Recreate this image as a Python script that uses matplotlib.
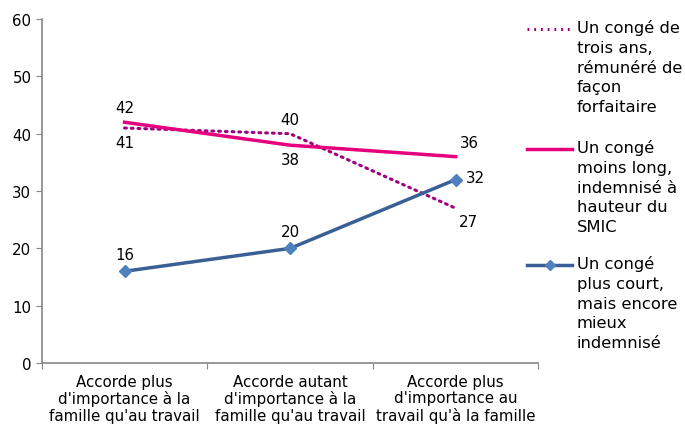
import matplotlib.pyplot as plt
from matplotlib.lines import Line2D

# categories and the three series
categories = ["Accorde plus\nd'importance à la\nfamille qu'au travail",
              "Accorde autant\nd'importance à la\nfamille qu'au travail",
              "Accorde plus\nd'importance au\ntravail qu'à la famille"]
trois_ans = [41, 40, 27]
moins_long = [42, 38, 36]
plus_court = [16, 20, 32]

legend_labels = ["Un congé de\ntrois ans,\nrémunéré de\nfaçon\nforfaitaire",
                 "Un congé\nmoins long,\nindemnisé à\nhauteur du\nSMIC",
                 "Un congé\nplus court,\nmais encore\nmieux\nindemnisé"]

c_dot = "#A0007F"
c_pink = "#E6007E"
c_blue = "#3A5F96"
c_mark = "#4F81BD"
gray = "#868686"

plt.rcParams['font.family'] = ['DejaVu Sans']
fig = plt.figure(figsize=(6.85, 4.27), dpi=100)
ax = fig.add_axes([0.061, 0.1475, 0.725, 0.8055])

x = [0.5, 1.5, 2.5]
ax.plot(x, trois_ans, color=c_dot, lw=2.2, linestyle=(0, (0.6, 1.6)), dash_capstyle='round')
ax.plot(x, moins_long, color=c_pink, lw=2.5)
ax.plot(x, plus_court, color=c_blue, lw=2.5, marker='D', markersize=6,
        markerfacecolor=c_mark, markeredgecolor=c_mark)

# data labels
fs = 10.8
ax.text(x[0], trois_ans[0] - 1.2, str(trois_ans[0]), ha='center', va='top', fontsize=fs)
ax.text(x[1], trois_ans[1] + 1.2, str(trois_ans[1]), ha='center', va='bottom', fontsize=fs)
ax.text(x[2] + 0.08, trois_ans[2] - 1.0, str(trois_ans[2]), ha='center', va='top', fontsize=fs)
ax.text(x[0], moins_long[0] + 1.2, str(moins_long[0]), ha='center', va='bottom', fontsize=fs)
ax.text(x[1], moins_long[1] - 1.2, str(moins_long[1]), ha='center', va='top', fontsize=fs)
ax.text(x[2] + 0.08, moins_long[2] + 1.2, str(moins_long[2]), ha='center', va='bottom', fontsize=fs)
ax.text(x[0], plus_court[0] + 1.6, str(plus_court[0]), ha='center', va='bottom', fontsize=fs)
ax.text(x[1], plus_court[1] + 1.6, str(plus_court[1]), ha='center', va='bottom', fontsize=fs)
ax.text(x[2] + 0.06, plus_court[2] + 0.4, str(plus_court[2]), ha='left', va='center', fontsize=fs)

ax.set_xlim(0, 3)
ax.set_ylim(0, 60)
ax.set_yticks(range(0, 61, 10))
ax.set_xticks([0, 1, 2, 3])
ax.set_xticklabels([])
ax.set_xticks(x, minor=True)
ax.set_xticklabels(categories, minor=True, fontsize=fs, linespacing=1.1)
ax.tick_params(axis='x', which='minor', length=0, pad=8)
ax.tick_params(axis='x', which='major', length=4, color=gray, direction='out')
ax.tick_params(axis='y', length=4, color=gray, labelsize=fs)
for s in ['top', 'right']:
    ax.spines[s].set_visible(False)
for s in ['left', 'bottom']:
    ax.spines[s].set_color(gray)
    ax.spines[s].set_linewidth(1.2)

# legend drawn by hand so that handles line up with the first text line
handles = [dict(color=c_dot, lw=2.2, linestyle=(0, (0.6, 1.6))),
           dict(color=c_pink, lw=2.5, linestyle='-'),
           dict(color=c_blue, lw=2.5, linestyle='-')]
ys = [30, 150, 266]
for lab, h, yp, i in zip(legend_labels, handles, ys, range(3)):
    yf = 1 - yp / 427
    ln = Line2D([527 / 685, 572 / 685], [yf, yf], transform=fig.transFigure, **h)
    fig.add_artist(ln)
    if i == 2:
        fig.add_artist(Line2D([549.5 / 685], [yf], transform=fig.transFigure, marker='D',
                              markersize=5, color=c_mark, linestyle='none'))
    fig.text(577 / 685, yf + 10 / 427, lab, ha='left', va='top', fontsize=11.8,
             linespacing=1.4)

fig.savefig("out.png", dpi=100)
